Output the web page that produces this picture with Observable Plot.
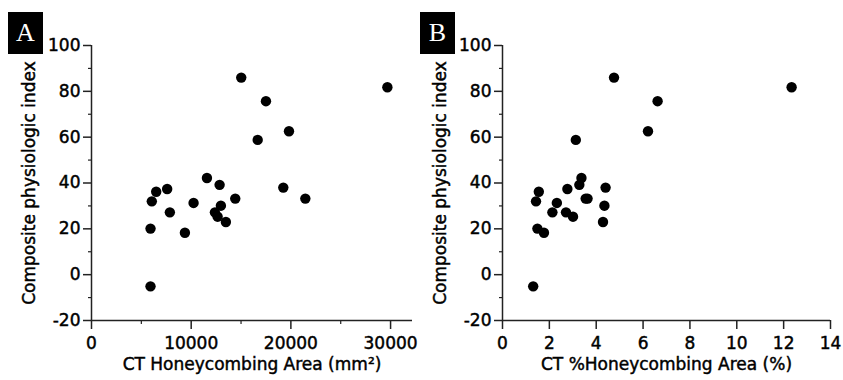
<!DOCTYPE html>
<html>
<head>
<meta charset="utf-8">
<script src="https://cdn.jsdelivr.net/npm/d3@7"></script>
<script src="https://cdn.jsdelivr.net/npm/@observablehq/plot@0.6"></script>
<style>
  html, body { margin: 0; padding: 0; background: #fff; }
  #wrap { position: relative; width: 843px; height: 380px; display: flex; overflow: hidden; }
  #wrap svg text { stroke: #000; stroke-width: 0.45px; }
  .tag { position: absolute; top: 12px; width: 35px; height: 42px; background: #000; color: #fff;
         font-family: "Liberation Serif", "DejaVu Serif", serif; font-size: 26px; line-height: 42px; text-align: center; z-index: 2; }
</style>
</head>
<body>
<div id="wrap">
  <div class="tag" style="left:8px;">A</div>
  <div class="tag" style="left:420px;">B</div>
</div>
<script>
// Composite physiologic index (shared by both panels)
const cpi = [86, 81.8, 75.7, 62.6, 58.8, 42.2, 39.2, 38.0, 37.4, 36.2, 32.0, 31.3, 33.2, 33.2, 30.1, 27.2, 27.2, 25.3, 23.0, 20.1, 18.3, -5.1];
// CT honeycombing area (mm²)
const areaMm2 = [15020, 29680, 17500, 19810, 16670, 11580, 12850, 19240, 7590, 6490, 6050, 10240, 14420, 21450, 12980, 7860, 12380, 12650, 13480, 5920, 9370, 5920];
// CT %honeycombing area (%)
const areaPct = [4.76, 12.34, 6.62, 6.21, 3.13, 3.37, 3.28, 4.40, 2.77, 1.55, 1.43, 2.32, 3.55, 3.63, 4.35, 2.13, 2.71, 3.01, 4.29, 1.49, 1.77, 1.31];

const yTicks = [-20, 0, 20, 40, 60, 80, 100];
const yMinorTicks = [-10, 10, 30, 50, 70, 90];
const xTicksA = [0, 10000, 20000, 30000];
const xMinorA = [5000, 15000, 25000];
const xTicksB = [0, 2, 4, 6, 8, 10, 12, 14];
const yLabel = "Composite physiologic index";
const xLabelA = "CT Honeycombing Area (mm²)";
const xLabelB = "CT %Honeycombing Area (%)";

const FONT = "DejaVu Sans, Verdana, sans-serif";
const FS = 17;
const AXC = "#222";

function panel({xs, xDomain, xTicks, xMinor, xLabel, width, marginLeft, marginRight}) {
  const data = cpi.map((y, i) => ({x: xs[i], y}));
  return Plot.plot({
    width, height: 380,
    marginLeft, marginRight, marginTop: 45, marginBottom: 60,
    style: {fontFamily: FONT, fontSize: "17px", color: "#000", background: "#fff", overflow: "visible"},
    x: {domain: xDomain},
    y: {domain: [-20, 100]},
    marks: [
      Plot.axisY({ticks: yTicks, tickSize: 8, tickPadding: 3, tickFormat: d => String(d), label: null,
                  stroke: AXC, strokeWidth: 1.5, fontSize: FS, fontFamily: FONT, fill: "#000"}),
      Plot.axisY({ticks: yMinorTicks, tickSize: 3, tickFormat: () => "", label: null, stroke: AXC, strokeWidth: 1.2}),
      Plot.axisX({ticks: xTicks, tickSize: 9, tickPadding: 7, tickFormat: d => String(d), label: null,
                  stroke: AXC, strokeWidth: 1.5, fontSize: FS, fontFamily: FONT, fill: "#000"}),
      ...(xMinor.length ? [Plot.axisX({ticks: xMinor, tickSize: 4, tickFormat: () => "", label: null, stroke: AXC, strokeWidth: 1.2})] : []),
      Plot.ruleX([0], {y1: -20, y2: 100, stroke: AXC, strokeWidth: 1.5}),
      Plot.ruleY([-20], {x1: xDomain[0], x2: xDomain[1], stroke: AXC, strokeWidth: 1.5}),
      Plot.dot(data, {x: "x", y: "y", r: 5.2, fill: "#000", stroke: "none"}),
      Plot.text([yLabel], {frameAnchor: "left", rotate: -90, dx: -62, textAnchor: "middle", lineAnchor: "middle",
                           text: d => d, fontSize: FS, fontFamily: FONT, fill: "#000"}),
      Plot.text([xLabel], {frameAnchor: "bottom", dy: 44, textAnchor: "middle", lineAnchor: "middle",
                           text: d => d, fontSize: FS, fontFamily: FONT, fill: "#000"})
    ]
  });
}

const wrap = document.getElementById("wrap");
const a = panel({xs: areaMm2, xDomain: [0, 32200], xTicks: xTicksA, xMinor: xMinorA, xLabel: xLabelA, width: 420, marginLeft: 91, marginRight: 8});
const b = panel({xs: areaPct, xDomain: [0, 14], xTicks: xTicksB, xMinor: [], xLabel: xLabelB, width: 423, marginLeft: 82, marginRight: 13});
wrap.insertBefore(b, wrap.firstChild);
wrap.insertBefore(a, wrap.firstChild);
</script>
</body>
</html>
